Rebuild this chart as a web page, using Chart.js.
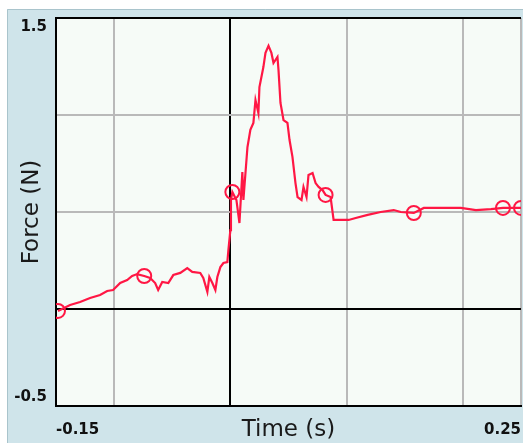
<!DOCTYPE html>
<html>
<head>
<meta charset="utf-8">
<script src="https://cdn.jsdelivr.net/npm/chart.js@4/dist/chart.umd.min.js"></script>
<style>
  html, body { margin: 0; padding: 0; background: #ffffff; }
  #wrap { width: 523px; height: 443px; }
</style>
</head>
<body>
<div id="wrap"><canvas id="c" width="523" height="443"></canvas></div>
<script>
// Force sensor trace: time (s) and force (N)
const times = [
  -0.1483, -0.1379, -0.1293, -0.1207, -0.1121, -0.1060, -0.1009, -0.0948, -0.0888, -0.0845,
  -0.0802, -0.0741, -0.0690, -0.0647, -0.0621, -0.0586, -0.0534, -0.0491, -0.0431, -0.0371,
  -0.0328, -0.0259, -0.0233, -0.0198, -0.0181, -0.0155, -0.0129, -0.0112, -0.0086, -0.0060,
  -0.0026, -0.0017, 0.0000, 0.0005, 0.0017, 0.0052, 0.0078, 0.0103, 0.0112, 0.0147,
  0.0172, 0.0198, 0.0216, 0.0241, 0.0250, 0.0284, 0.0302, 0.0328, 0.0353, 0.0371,
  0.0405, 0.0414, 0.0431, 0.0457, 0.0491, 0.0509, 0.0534, 0.0560, 0.0578, 0.0612,
  0.0629, 0.0655, 0.0672, 0.0707, 0.0733, 0.0759, 0.0793, 0.0819, 0.0862, 0.0888,
  0.1017, 0.1078, 0.1181, 0.1293, 0.1405, 0.1466, 0.1578, 0.1664, 0.1983, 0.2112,
  0.2241, 0.2345, 0.2500
];
const forces = [
  -0.010, 0.021, 0.036, 0.057, 0.072, 0.093, 0.098, 0.134, 0.149, 0.170,
  0.180, 0.170, 0.160, 0.134, 0.098, 0.139, 0.134, 0.175, 0.186, 0.211,
  0.191, 0.186, 0.160, 0.088, 0.165, 0.134, 0.098, 0.165, 0.216, 0.237,
  0.242, 0.304, 0.407, 0.562, 0.603, 0.562, 0.443, 0.706, 0.562, 0.835,
  0.923, 0.959, 1.077, 1.010, 1.144, 1.247, 1.320, 1.356, 1.320, 1.268,
  1.299, 1.232, 1.062, 0.974, 0.959, 0.871, 0.784, 0.649, 0.577, 0.562,
  0.629, 0.577, 0.691, 0.701, 0.649, 0.629, 0.613, 0.588, 0.577, 0.459,
  0.459, 0.469, 0.485, 0.500, 0.510, 0.500, 0.495, 0.521, 0.521, 0.510,
  0.515, 0.521, 0.521
];

// Marked samples along the trace
const markerTimes  = [-0.1483, -0.0741, 0.0017, 0.0819, 0.1578, 0.2345, 0.2500];
const markerForces = [-0.010, 0.170, 0.603, 0.588, 0.495, 0.521, 0.521];

// Axis ticks (grid positions) and their printed labels
const xTickValues = [-0.15, -0.1, 0, 0.1, 0.2, 0.25];
const xTickLabels = ['-0.15', '', '', '', '', '0.25'];
const yTickValues = [-0.5, 0, 0.5, 1, 1.5];
const yTickLabels = ['-0.5', '', '', '', '1.5'];

const xTitle = 'Time (s)';
const yTitle = 'Force (N)';

const traceColor = '#ff1744';

// Panel background, plot-area fill
const panelPlugin = {
  id: 'panel',
  beforeDraw(chart) {
    const { ctx, width, height, chartArea: a } = chart;
    ctx.save();
    ctx.fillStyle = '#ffffff';
    ctx.fillRect(0, 0, width, height);
    ctx.fillStyle = '#cfe4ea';
    ctx.fillRect(7, 9, width - 7, height - 9);
    ctx.strokeStyle = '#a9c4cc';
    ctx.lineWidth = 1;
    ctx.beginPath();
    ctx.moveTo(7.5, height);
    ctx.lineTo(7.5, 9.5);
    ctx.lineTo(width, 9.5);
    ctx.stroke();
    ctx.fillStyle = '#f6fbf7';
    ctx.fillRect(a.left, a.top, a.right - a.left, a.bottom - a.top);
    ctx.restore();
  }
};

// Labels sit inside the axis range, so no extra edge padding is needed
const noEdgePadding = s => {
  s.paddingLeft = 0; s.paddingRight = 0; s.paddingTop = 0; s.paddingBottom = 0;
};

new Chart(document.getElementById('c'), {
  type: 'scatter',
  data: {
    datasets: [
      {
        data: times.map((t, i) => ({ x: t, y: forces[i] })),
        showLine: true,
        borderColor: traceColor,
        borderWidth: 2.2,
        pointRadius: 0,
        tension: 0,
        fill: false
      },
      {
        data: markerTimes.map((t, i) => ({ x: t, y: markerForces[i] })),
        showLine: false,
        pointRadius: 7,
        pointBorderWidth: 2,
        pointBorderColor: traceColor,
        pointBackgroundColor: 'rgba(0,0,0,0)'
      }
    ]
  },
  options: {
    responsive: false,
    animation: false,
    layout: { autoPadding: false, padding: { left: 0, top: 18, right: 2, bottom: 0 } },
    plugins: { legend: { display: false }, tooltip: { enabled: false } },
    scales: {
      x: {
        type: 'linear',
        min: -0.15,
        max: 0.25,
        afterBuildTicks: s => { s.ticks = xTickValues.map(v => ({ value: v })); },
        afterFit: s => { s.height = 37; noEdgePadding(s); },
        grid: {
          drawTicks: false,
          lineWidth: 2,
          color: c => (c.tick && (c.tick.value === 0 || c.tick.value === -0.15)) ? '#000000' : '#b9b9b9'
        },
        border: { display: true, color: '#000000', width: 2 },
        ticks: {
          autoSkip: false,
          maxRotation: 0,
          align: 'inner',
          padding: 15,
          color: '#111111',
          font: { family: '"DejaVu Sans"', size: 15, weight: 'bold' },
          callback: (v, i) => xTickLabels[i]
        },
        title: {
          display: true,
          text: xTitle,
          color: '#1a1a1a',
          font: { family: '"DejaVu Sans"', size: 23, lineHeight: 1.1 },
          padding: { top: 0, bottom: 0 }
        }
      },
      y: {
        type: 'linear',
        min: -0.5,
        max: 1.5,
        afterBuildTicks: s => { s.ticks = yTickValues.map(v => ({ value: v })); },
        afterFit: s => { s.width = 56; noEdgePadding(s); },
        grid: {
          drawTicks: true,
          tickLength: 9,
          tickColor: 'rgba(0,0,0,0)',
          lineWidth: 2,
          color: c => (c.tick && (c.tick.value === 0 || c.tick.value === 1.5)) ? '#000000' : '#b9b9b9'
        },
        border: { display: true, color: '#000000', width: 2 },
        ticks: {
          autoSkip: false,
          padding: 0,
          color: '#111111',
          font: { family: '"DejaVu Sans"', size: 15, weight: 'bold', lineHeight: 1.2 },
          callback: (v, i) => {
            const lab = yTickLabels[i];
            if (!lab) return '';
            return i === 0 ? [lab, ''] : ['', lab];
          }
        },
        title: {
          display: true,
          text: yTitle,
          color: '#1a1a1a',
          font: { family: '"DejaVu Sans"', size: 23, lineHeight: 1.1 },
          padding: { top: 19, bottom: 0 }
        }
      }
    }
  },
  plugins: [panelPlugin]
});
</script>
</body>
</html>
